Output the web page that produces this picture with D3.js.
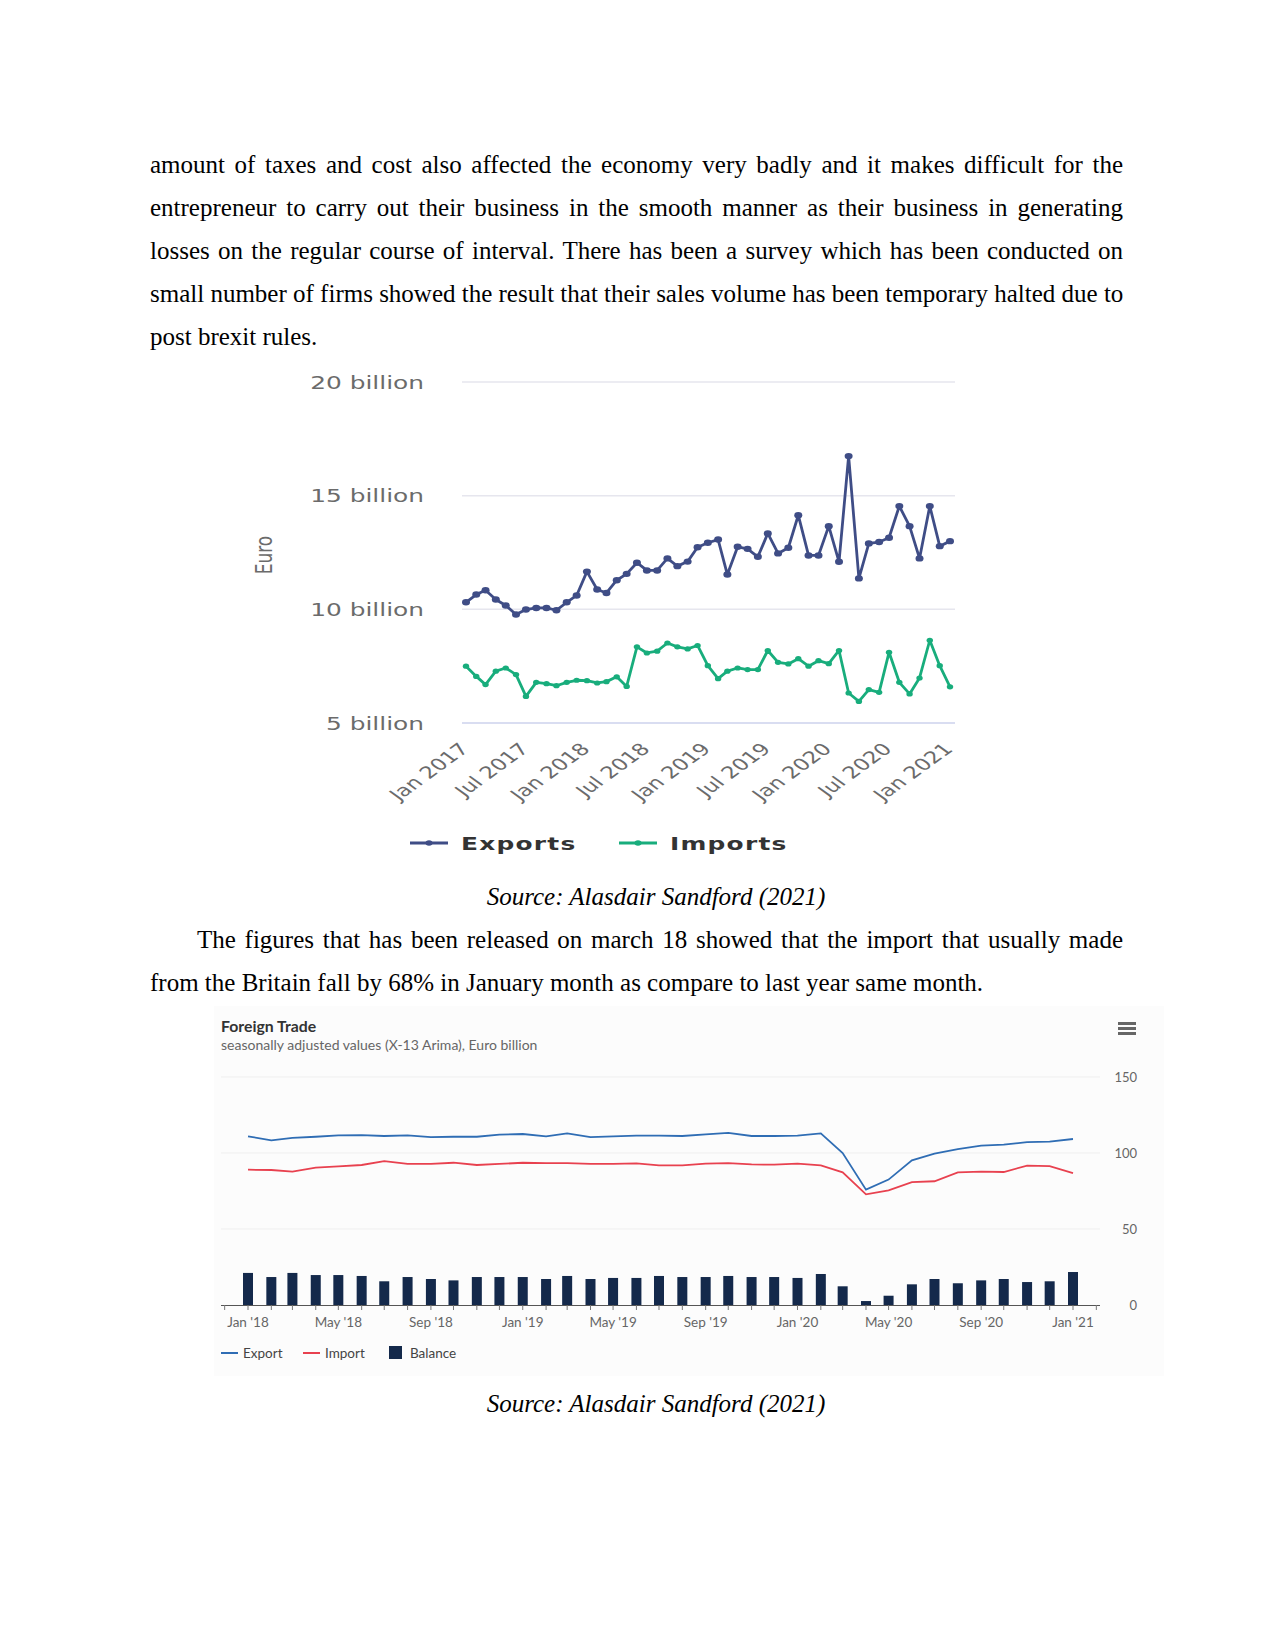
<!DOCTYPE html>
<html>
<head>
<meta charset="utf-8">
<script src="https://cdn.jsdelivr.net/npm/d3@7"></script>
<style>
  body { margin: 0; background: #fff; }
  #page { position: relative; width: 1275px; height: 1651px; overflow: hidden; background: #fff; }
  .ln { position: absolute; font-family: "Liberation Serif", "Times New Roman", serif; font-size: 25px; line-height: 30px; color: #000; white-space: nowrap; }
  .just { text-align: justify; text-align-last: justify; }
  .cap { font-style: italic; text-align: center; }
  svg { position: absolute; left: 0; top: 0; }
</style>
</head>
<body>
<div id="page"></div>
<script>
// ---- text of the page
var para1 = [
  "amount of taxes and cost also affected the economy very badly and it makes difficult for the",
  "entrepreneur to carry out their business in the smooth manner as their business in generating",
  "losses on the regular course of interval. There has been a survey which has been conducted on",
  "small number of firms showed the result that their sales volume has been temporary halted due to",
  "post brexit rules."
];
var para2 = [
  "The figures that has been released on march 18 showed that the import that usually made",
  "from the Britain fall by 68% in January month as compare to last year same month."
];
var caption = "Source: Alasdair Sandford (2021)";

// ---- chart 1: monthly Jan 2017 - Jan 2021, billion euro
var c1Start = new Date(Date.UTC(2017, 0, 1));
var c1Exports = [10.31,10.65,10.84,10.43,10.17,9.77,9.99,10.06,10.06,9.96,
                 10.31,10.61,11.66,10.87,10.72,11.28,11.56,12.05,11.71,11.71,
                 12.24,11.90,12.10,12.73,12.93,13.07,11.53,12.75,12.66,12.31,
                 13.34,12.46,12.71,14.14,12.37,12.37,13.66,12.09,16.74,11.36,
                 12.90,12.96,13.15,14.54,13.66,12.24,14.54,12.78,13.00];
var c1Imports = [7.50,7.05,6.69,7.28,7.42,7.13,6.17,6.79,6.73,6.64,
                 6.79,6.88,6.86,6.76,6.82,7.03,6.61,8.35,8.08,8.16,
                 8.52,8.35,8.26,8.41,7.52,6.95,7.28,7.42,7.35,7.35,
                 8.19,7.67,7.60,7.83,7.50,7.74,7.61,8.19,6.32,5.95,
                 6.47,6.35,8.11,6.79,6.28,6.98,8.64,7.52,6.59];
var c1YTicks = [5, 10, 15, 20];
var c1Series = ["Exports", "Imports"];

// ---- chart 2: monthly Jan 2018 - Jan 2021, euro billion
var c2Start = new Date(Date.UTC(2018, 0, 1));
var c2Export = [111.0,108.3,109.9,110.7,111.6,111.8,111.2,111.6,110.5,110.7,
                110.7,112.1,112.5,111.0,112.9,110.5,111.0,111.4,111.4,111.2,
                112.3,113.2,111.2,111.2,111.4,112.9,100.0,75.9,82.5,95.2,
                99.6,102.6,104.8,105.5,107.2,107.5,109.2];
var c2Import = [89.0,88.8,87.7,90.4,91.2,92.1,94.7,92.8,92.8,93.6,
                92.1,92.8,93.6,93.4,93.4,92.8,92.8,93.2,91.9,91.9,
                93.0,93.4,92.5,92.3,93.0,91.9,87.3,72.8,75.4,80.9,
                81.4,87.3,87.7,87.5,91.7,91.4,86.8];
var c2Balance = [21.1,18.4,21.1,19.7,19.7,19.1,15.6,18.4,17.1,16.2,
                 18.4,18.4,18.4,17.1,19.1,17.1,17.8,17.8,19.1,18.4,
                 18.4,19.1,18.4,18.4,17.8,20.4,12.3,2.6,6.1,13.6,
                 17.1,14.3,16.2,17.1,15.1,15.6,21.7];
var c2YTicks = [0, 50, 100, 150];
var c2Series = ["Export", "Import", "Balance"];
var c2Title = "Foreign Trade";
var c2Subtitle = "seasonally adjusted values (X-13 Arima), Euro billion";

var page = d3.select("#page");

// ---- body text lines (baseline = top + 23)
function addLines(lines, top0, indent) {
  lines.forEach(function(t, i) {
    var last = i === lines.length - 1;
    page.append("div")
      .attr("class", "ln" + (last ? "" : " just"))
      .style("left", (150 + (i === 0 ? indent : 0)) + "px")
      .style("top", (top0 + i * 43) + "px")
      .style("width", last ? null : (973 - (i === 0 ? indent : 0)) + "px")
      .text(t);
  });
}
addLines(para1, 150, 0);
addLines(para2, 925, 47);
[882, 1389].forEach(function(t) {
  page.append("div").attr("class", "ln cap")
    .style("left", "456px").style("width", "400px").style("top", t + "px")
    .text(caption);
});

var svg = page.append("svg").attr("width", 1275).attr("height", 1651);

// =================== chart 1 ===================
var SX = 1.38;  // the source picture is stretched sideways
var c1Dates = c1Exports.map(function(d, i) { return d3.utcMonth.offset(c1Start, i); });
var x1 = d3.scaleUtc().domain([c1Start, c1Dates[c1Dates.length - 1]]).range([466, 950]);
var y1 = d3.scaleLinear().domain([5, 20]).range([723, 382]);
var c1Color = { Exports: "#3f4d86", Imports: "#18ad7c" };

var g1 = svg.append("g").attr("class", "chart1");

g1.selectAll("line.grid").data(c1YTicks).enter().append("line")
  .attr("class", "grid")
  .attr("x1", 462).attr("x2", 955)
  .attr("y1", function(d) { return y1(d); }).attr("y2", function(d) { return y1(d); })
  .attr("stroke", function(d) { return d === 5 ? "#ccd2ec" : "#e6e6ee"; })
  .attr("stroke-width", 1.5);

g1.selectAll("text.ylab").data(c1YTicks).enter().append("text")
  .attr("class", "ylab")
  .attr("transform", function(d) { return "translate(424," + (y1(d) + 6.5) + ") scale(" + SX + ",1)"; })
  .attr("text-anchor", "end")
  .attr("font-family", "DejaVu Sans, sans-serif").attr("font-size", 18)
  .attr("fill", "#6b6b6b")
  .text(function(d) { return d + " billion"; });

g1.append("text")
  .attr("transform", "translate(272,555) scale(" + SX + ",1) rotate(-90)")
  .attr("text-anchor", "middle")
  .attr("font-family", "DejaVu Sans, sans-serif").attr("font-size", 17)
  .attr("fill", "#6b6b6b")
  .text("Euro");

var c1TickDates = d3.utcMonth.every(6).range(c1Start, d3.utcMonth.offset(c1Start, 49));
g1.selectAll("text.xlab").data(c1TickDates).enter().append("text")
  .attr("class", "xlab")
  .attr("transform", function(d) { return "translate(" + (x1(d) + 4) + ",750) scale(" + SX + ",1) rotate(-45)"; })
  .attr("text-anchor", "end")
  .attr("font-family", "DejaVu Sans, sans-serif").attr("font-size", 16.5)
  .attr("fill", "#6b6b6b")
  .text(d3.utcFormat("%b %Y"));

var line1 = d3.line()
  .x(function(d, i) { return x1(c1Dates[i]); })
  .y(function(d) { return y1(d); });

[["Exports", c1Exports, 4, 3.2], ["Imports", c1Imports, 3.2, 2.6]].forEach(function(s) {
  var gs = g1.append("g");
  gs.append("path").datum(s[1])
    .attr("d", line1).attr("fill", "none")
    .attr("stroke", c1Color[s[0]]).attr("stroke-width", 2.8)
    .attr("stroke-linejoin", "round");
  gs.selectAll("ellipse").data(s[1]).enter().append("ellipse")
    .attr("cx", function(d, i) { return x1(c1Dates[i]); })
    .attr("cy", function(d) { return y1(d); })
    .attr("rx", s[2]).attr("ry", s[3])
    .attr("fill", c1Color[s[0]]);
});

// legend
var leg1 = g1.selectAll("g.leg").data(c1Series).enter().append("g")
  .attr("class", "leg")
  .attr("transform", function(d, i) { return "translate(" + (i === 0 ? 410 : 619) + ",843)"; });
leg1.append("line").attr("x1", 0).attr("x2", 38).attr("y1", 0).attr("y2", 0)
  .attr("stroke", function(d) { return c1Color[d]; }).attr("stroke-width", 3);
leg1.append("ellipse").attr("cx", 19).attr("cy", 0).attr("rx", 3.5).attr("ry", 2.8)
  .attr("fill", function(d) { return c1Color[d]; });
leg1.append("text")
  .attr("transform", "translate(51,7) scale(" + SX + ",1)")
  .attr("font-family", "DejaVu Sans, sans-serif").attr("font-size", 18).attr("font-weight", "bold")
  .attr("letter-spacing", 0.9)
  .attr("fill", "#333")
  .text(function(d) { return d; });

// =================== chart 2 ===================
var c2Dates = c2Export.map(function(d, i) { return d3.utcMonth.offset(c2Start, i); });
var x2 = d3.scaleUtc().domain([c2Start, c2Dates[c2Dates.length - 1]]).range([248, 1073]);
var y2 = d3.scaleLinear().domain([0, 150]).range([1305, 1077]);
var c2Color = { Export: "#2f6db4", Import: "#e8414f", Balance: "#14294b" };
var sans = "Lato, 'Noto Sans', sans-serif";

var g2 = svg.append("g").attr("class", "chart2");

g2.append("rect").attr("x", 214).attr("y", 1006).attr("width", 950).attr("height", 370)
  .attr("fill", "#fcfcfc");

g2.append("text").attr("x", 221).attr("y", 1032)
  .attr("font-family", sans).attr("font-size", 15.8).attr("font-weight", "bold")
  .attr("fill", "#333").text(c2Title);
g2.append("text").attr("x", 221).attr("y", 1050)
  .attr("font-family", sans).attr("font-size", 14)
  .attr("fill", "#666").text(c2Subtitle);

// menu icon
g2.selectAll("rect.menu").data([0, 1, 2]).enter().append("rect")
  .attr("class", "menu")
  .attr("x", 1118).attr("y", function(d) { return 1022 + d * 5; })
  .attr("width", 18).attr("height", 3).attr("fill", "#666");

g2.selectAll("line.grid").data(c2YTicks.filter(function(d) { return d > 0; })).enter().append("line")
  .attr("class", "grid")
  .attr("x1", 221).attr("x2", 1100)
  .attr("y1", function(d) { return y2(d); }).attr("y2", function(d) { return y2(d); })
  .attr("stroke", "#efefef").attr("stroke-width", 1);

g2.selectAll("text.ylab").data(c2YTicks).enter().append("text")
  .attr("class", "ylab")
  .attr("x", 1137).attr("y", function(d) { return y2(d) + 5; })
  .attr("text-anchor", "end")
  .attr("font-family", sans).attr("font-size", 13)
  .attr("fill", "#666").text(function(d) { return d; });

// bars
g2.selectAll("rect.bar").data(c2Balance).enter().append("rect")
  .attr("class", "bar")
  .attr("x", function(d, i) { return x2(c2Dates[i]) - 5; })
  .attr("width", 10)
  .attr("y", function(d) { return y2(d); })
  .attr("height", function(d) { return y2(0) - y2(d); })
  .attr("fill", c2Color.Balance);

// x axis
var c2Ticks = d3.utcMonth.range(d3.utcMonth.offset(c2Start, -1), d3.utcMonth.offset(c2Start, 38));
g2.append("line").attr("x1", 221).attr("x2", 1100).attr("y1", 1305.5).attr("y2", 1305.5)
  .attr("stroke", "#555").attr("stroke-width", 1);
g2.selectAll("line.tick").data(c2Ticks).enter().append("line")
  .attr("class", "tick")
  .attr("x1", function(d) { return x2(d); }).attr("x2", function(d) { return x2(d); })
  .attr("y1", 1305).attr("y2", 1310)
  .attr("stroke", "#777").attr("stroke-width", 1);
var c2Labels = d3.utcMonth.every(4).range(c2Start, d3.utcMonth.offset(c2Start, 37));
g2.selectAll("text.xlab").data(c2Labels).enter().append("text")
  .attr("class", "xlab")
  .attr("x", function(d) { return x2(d); }).attr("y", 1327)
  .attr("text-anchor", "middle")
  .attr("font-family", sans).attr("font-size", 13.5)
  .attr("fill", "#666").text(d3.utcFormat("%b '%y"));

// lines
var line2 = d3.line()
  .x(function(d, i) { return x2(c2Dates[i]); })
  .y(function(d) { return y2(d); });
[["Export", c2Export], ["Import", c2Import]].forEach(function(s) {
  g2.append("path").datum(s[1])
    .attr("d", line2).attr("fill", "none")
    .attr("stroke", c2Color[s[0]]).attr("stroke-width", 1.8);
});

// legend
var legX = { Export: 221, Import: 303, Balance: 389 };
var leg2 = g2.selectAll("g.leg").data(c2Series).enter().append("g")
  .attr("class", "leg")
  .attr("transform", function(d) { return "translate(" + legX[d] + ",1353)"; });
leg2.filter(function(d) { return d !== "Balance"; }).append("line")
  .attr("x1", 0).attr("x2", 17).attr("y1", 0).attr("y2", 0)
  .attr("stroke", function(d) { return c2Color[d]; }).attr("stroke-width", 2);
leg2.filter(function(d) { return d === "Balance"; }).append("rect")
  .attr("x", 0).attr("y", -7).attr("width", 13).attr("height", 13)
  .attr("fill", c2Color.Balance);
leg2.append("text")
  .attr("x", function(d) { return d === "Balance" ? 21 : 22; }).attr("y", 4.5)
  .attr("font-family", sans).attr("font-size", 13.5)
  .attr("fill", "#444").text(function(d) { return d; });
</script>
</body>
</html>
